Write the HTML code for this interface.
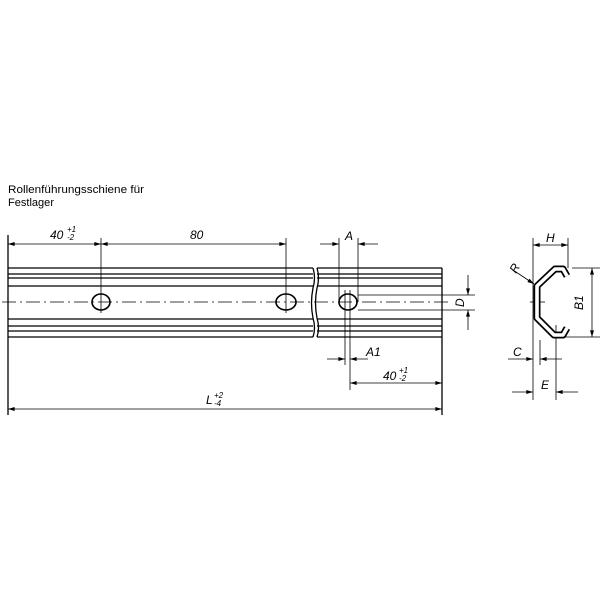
<!DOCTYPE html>
<html><head><meta charset="utf-8"><style>body{margin:0;background:#fff}</style></head><body>
<svg width="600" height="600" viewBox="0 0 600 600" xmlns="http://www.w3.org/2000/svg" font-family="Liberation Sans, sans-serif">
<defs>
<marker id="a" viewBox="0 0 10 6" refX="10" refY="3" markerWidth="8" markerHeight="4" orient="auto-start-reverse" markerUnits="userSpaceOnUse"><path d="M0,0L10,3L0,6z" fill="#000"/></marker>
</defs>
<rect width="600" height="600" fill="#fff"/>
<text x="8" y="193" font-size="11" textLength="136" lengthAdjust="spacingAndGlyphs">Rollenführungsschiene für</text>
<text x="8" y="206" font-size="11" textLength="46" lengthAdjust="spacingAndGlyphs">Festlager</text>
<g stroke="#000" fill="none">
<g stroke-width="1.3">
<line x1="8" y1="268" x2="313" y2="268"/><line x1="8" y1="274" x2="313" y2="274"/>
<line x1="8" y1="278" x2="313" y2="278"/><line x1="8" y1="286" x2="313" y2="286"/>
<line x1="8" y1="319" x2="313" y2="319"/><line x1="8" y1="326" x2="313" y2="326"/>
<line x1="8" y1="331" x2="313" y2="331"/><line x1="8" y1="337" x2="313" y2="337"/>
<line x1="317" y1="268" x2="442" y2="268"/><line x1="317" y1="274" x2="442" y2="274"/>
<line x1="317" y1="278" x2="442" y2="278"/><line x1="317" y1="286" x2="442" y2="286"/>
<line x1="317" y1="319" x2="442" y2="319"/><line x1="317" y1="326" x2="442" y2="326"/>
<line x1="317" y1="331" x2="442" y2="331"/><line x1="317" y1="337" x2="442" y2="337"/>
<path d="M313,268 q3,10 0,20 q-3,15 0,30 q3,10 0,19"/>
<path d="M317,268 q3,10 0,20 q-3,15 0,30 q3,10 0,19"/>
<line x1="442" y1="268" x2="442" y2="415"/>
<line x1="8" y1="235" x2="8" y2="415"/>
</g>
<line x1="2" y1="302" x2="448" y2="302" stroke-width="0.7" stroke-dasharray="14,4,2,4"/>
<ellipse cx="101" cy="302" rx="9" ry="8" stroke-width="1.6"/>
<ellipse cx="286" cy="302" rx="10" ry="8" stroke-width="1.6"/>
<ellipse cx="348" cy="302" rx="9" ry="8" stroke-width="1.6"/>
<g stroke-width="0.8">
<line x1="101" y1="238" x2="101" y2="313"/><line x1="286" y1="238" x2="286" y2="313"/>
<line x1="8" y1="244" x2="101" y2="244" marker-start="url(#a)" marker-end="url(#a)"/>
<line x1="101" y1="244" x2="286" y2="244" marker-start="url(#a)" marker-end="url(#a)"/>
<line x1="8" y1="409" x2="442" y2="409" marker-start="url(#a)" marker-end="url(#a)"/>
<line x1="339" y1="238" x2="339" y2="302"/><line x1="358" y1="238" x2="358" y2="302"/>
<line x1="320" y1="244" x2="339" y2="244" marker-end="url(#a)"/>
<line x1="378" y1="244" x2="358" y2="244" marker-end="url(#a)"/>
<line x1="345" y1="290" x2="345" y2="365"/><line x1="350" y1="290" x2="350" y2="390"/>
<line x1="327" y1="359" x2="345" y2="359" marker-end="url(#a)"/>
<line x1="368" y1="359" x2="350" y2="359" marker-end="url(#a)"/>
<line x1="350" y1="383" x2="442" y2="383" marker-start="url(#a)" marker-end="url(#a)"/>
<line x1="358" y1="295" x2="475" y2="295"/><line x1="358" y1="310" x2="475" y2="310"/>
<line x1="468" y1="275" x2="468" y2="295" marker-end="url(#a)"/>
<line x1="468" y1="330" x2="468" y2="310" marker-end="url(#a)"/>
<line x1="533" y1="238" x2="533" y2="400"/>
<line x1="568" y1="238" x2="568" y2="268"/>
<line x1="533" y1="245" x2="568" y2="245" marker-start="url(#a)" marker-end="url(#a)"/>
<line x1="572" y1="268" x2="600" y2="268"/><line x1="560" y1="337" x2="600" y2="337"/>
<line x1="592" y1="268" x2="592" y2="337" marker-start="url(#a)" marker-end="url(#a)"/>
<line x1="540" y1="340" x2="540" y2="365"/>
<line x1="508" y1="359" x2="533" y2="359" marker-end="url(#a)"/>
<line x1="562" y1="359" x2="540" y2="359" marker-end="url(#a)"/>
<line x1="556" y1="325" x2="556" y2="400"/>
<line x1="512" y1="392" x2="533" y2="392" marker-end="url(#a)"/>
<line x1="578" y1="392" x2="556" y2="392" marker-end="url(#a)"/>
<line x1="513" y1="270" x2="534" y2="284" marker-end="url(#a)"/>
<line x1="530" y1="302" x2="545" y2="302"/>
</g>
<path d="M567,276 L563,269 L555,269 L537,286 L537,318 L554,335 L563,335 L567,328" stroke-width="7" stroke-linejoin="round"/>
<path d="M567,276 L563,269 L555,269 L537,286 L537,318 L554,335 L563,335 L567,328" stroke="#fff" stroke-width="3.6" stroke-linejoin="round"/>
</g>
<g font-style="italic" font-size="12" fill="#000">
<text x="50" y="239">40</text><text x="67" y="232" font-size="8">+1</text><text x="67" y="240" font-size="8">-2</text>
<text x="190" y="239">80</text>
<text x="345" y="240">A</text>
<text x="366" y="356">A1</text>
<text x="383" y="380">40</text><text x="399" y="373" font-size="8">+1</text><text x="399" y="381" font-size="8">-2</text>
<text x="206" y="404">L</text><text x="214" y="398" font-size="8">+2</text><text x="214" y="406" font-size="8">-4</text>
<text x="0" y="0" transform="translate(464,307) rotate(-90)">D</text>
<text x="546" y="242">H</text>
<text x="0" y="0" transform="translate(583,310) rotate(-90)">B1</text>
<text x="513" y="356">C</text>
<text x="541" y="389">E</text>
<text x="0" y="0" transform="translate(516,274) rotate(-60)">R</text>
</g>
</svg>
</body></html>
